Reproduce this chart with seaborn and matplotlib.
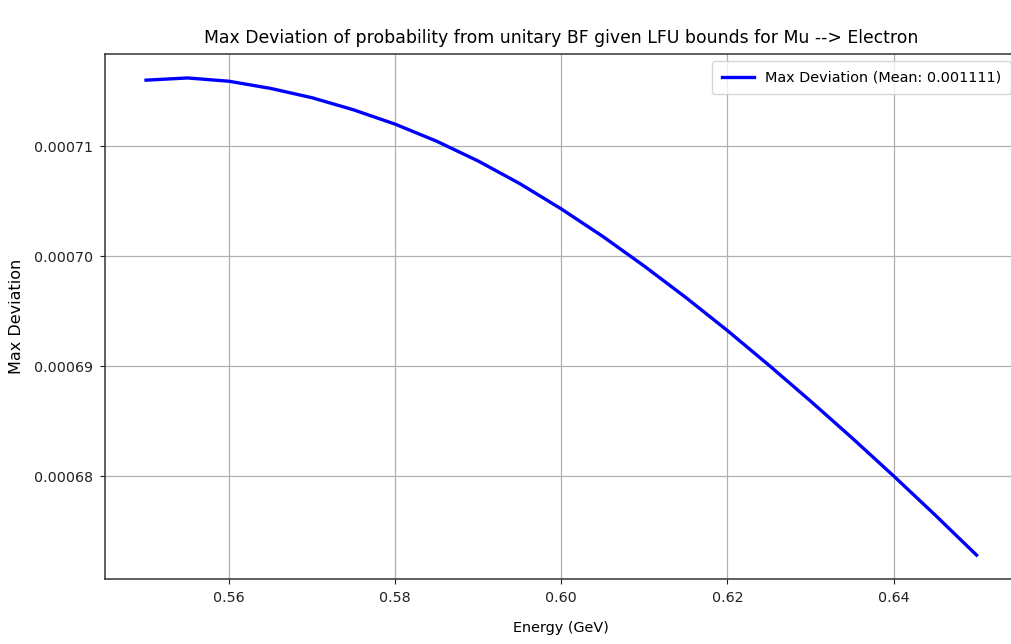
import matplotlib
matplotlib.use("Agg")
import matplotlib.pyplot as plt
import seaborn as sns
import pandas as pd

energy = [0.550, 0.555, 0.560, 0.565, 0.570, 0.575, 0.580, 0.585, 0.590, 0.595,
          0.600, 0.605, 0.610, 0.615, 0.620, 0.625, 0.630, 0.635, 0.640, 0.645, 0.650]
max_dev = [0.0007160, 0.0007162, 0.0007159, 0.00071525, 0.0007144, 0.0007133,
           0.0007120, 0.00071045, 0.00070865, 0.0007066, 0.0007043, 0.0007018,
           0.0006991, 0.00069625, 0.00069325, 0.0006901, 0.00068685, 0.0006835,
           0.00068005, 0.0006765, 0.00067285]
legend_label = "Max Deviation (Mean: 0.001111)"
title = "Max Deviation of probability from unitary BF given LFU bounds for Mu --> Electron"
x_ticks = [0.56, 0.58, 0.60, 0.62, 0.64]
x_tick_labels = ["0.56", "0.58", "0.60", "0.62", "0.64"]
y_ticks = [0.00068, 0.00069, 0.00070, 0.00071]
y_tick_labels = ["0.00068", "0.00069", "0.00070", "0.00071"]

df = pd.DataFrame({"Energy": energy, "MaxDev": max_dev})

plt.rcParams['font.family'] = ['DejaVu Sans']
fig = plt.figure(figsize=(10.11, 6.44), dpi=100)
ax = fig.add_axes([0.1034, 0.101, 0.9036, 0.815])

sns.lineplot(data=df, x="Energy", y="MaxDev", color="blue", linewidth=2.4,
             label=legend_label, ax=ax)

ax.grid(True, color="#b0b0b0", linewidth=0.9)
ax.set_axisbelow(True)
ax.set_xticks(x_ticks)
ax.set_xticklabels(x_tick_labels)
ax.set_yticks(y_ticks)
ax.set_yticklabels(y_tick_labels)
ax.tick_params(labelsize=10.3, colors="#222222", pad=5)
ax.set_xlabel("Energy (GeV)", fontsize=10.4, labelpad=12)
ax.set_ylabel("Max Deviation", fontsize=11.5, labelpad=7)
ax.set_title(title, fontsize=12.4, pad=8)
for s in ax.spines.values():
    s.set_color("#333333")
    s.set_linewidth(1.1)
leg = ax.legend(loc="upper right", fontsize=10.4, borderaxespad=0.5,
                borderpad=0.65, handlelength=2.2)

fig.savefig("out.png", dpi=100)
